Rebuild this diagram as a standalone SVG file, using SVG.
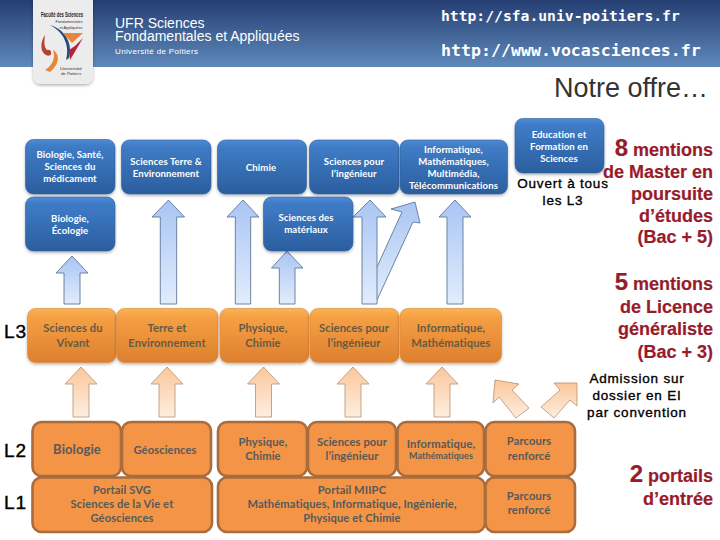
<svg xmlns="http://www.w3.org/2000/svg" width="720" height="540" viewBox="0 0 720 540">
<style>
text{font-family:Lato,"Noto Sans",sans-serif}
.b{fill:url(#gb);stroke:#2f6099;stroke-width:.6;filter:url(#sh)}
.o{fill:url(#go);stroke:#d98a3c;stroke-width:.6;filter:url(#sh)}
.p{fill:#f49446;stroke:#a96c3e;stroke-width:2.6}
.bt{fill:#fff;font-size:9.6px;font-weight:700;text-anchor:middle;letter-spacing:.1px}
.ot{fill:#665a42;font-size:11.2px;font-weight:700;text-anchor:middle;letter-spacing:.1px}
.pt{fill:#565a5a;font-size:11.2px;font-weight:700;text-anchor:middle;letter-spacing:.1px}
.ab{fill:url(#gab);stroke:#5f7896;stroke-width:.9}
.ao{fill:url(#gao);stroke:#b98f6e;stroke-width:.8}
.r,.k,.l,.h,.n{font-family:"Liberation Sans",Arial,sans-serif}
.r{font-weight:700;fill:#981b2b;text-anchor:end;font-size:18px;stroke:#981b2b;stroke-width:.2}
.big{font-size:24px}
.k{fill:#000;font-size:13.5px;text-anchor:middle;stroke:#000;stroke-width:.35;letter-spacing:.8px}
.l{fill:#000;font-size:19px;stroke:#000;stroke-width:.4;letter-spacing:1px}
.u{font-family:"DejaVu Sans Mono",monospace;font-weight:700;fill:#fff}
.h{fill:#fff}
.n{font-size:27px;fill:#333;text-anchor:end}
.lt{font-family:"Liberation Sans",Arial,sans-serif;fill:#333;font-size:4px;text-anchor:middle}
</style>
<defs>
<linearGradient id="gh" x1="0" y1="0" x2="0" y2="1"><stop offset="0" stop-color="#243e72"/><stop offset="1" stop-color="#6089bb"/></linearGradient>
<linearGradient id="gb" x1="0" y1="0" x2="0" y2="1"><stop offset="0" stop-color="#4f8ad6"/><stop offset=".12" stop-color="#3f7cc6"/><stop offset="1" stop-color="#2b5e9f"/></linearGradient>
<linearGradient id="go" x1="0" y1="0" x2="0" y2="1"><stop offset="0" stop-color="#fbb455"/><stop offset=".15" stop-color="#f6a044"/><stop offset="1" stop-color="#dd7f2e"/></linearGradient>
<linearGradient id="gab" x1="0" y1="0" x2="0" y2="1"><stop offset="0" stop-color="#a9c5f4"/><stop offset="1" stop-color="#e2ecfb"/></linearGradient>
<linearGradient id="gao" x1="0" y1="0" x2="0" y2="1"><stop offset="0" stop-color="#fbc79c"/><stop offset="1" stop-color="#fdeee0"/></linearGradient>
<filter id="sh" x="-10%" y="-10%" width="120%" height="125%"><feDropShadow dx="0" dy="1.5" stdDeviation="1.5" flood-color="#000" flood-opacity=".3"/></filter>
</defs>
<rect x="0" y="0" width="720" height="67" fill="url(#gh)"/>
<g id="logo">
<rect x="33" y="-12" width="60" height="96" rx="8" fill="#ececec" filter="url(#sh)"/>
<path d="M50 25C64 32 70 46 66 60L69 58C73 44 66 30 50 25Z" fill="#2b4a7c"/>
<path d="M63 33L83 33L72 43Z" fill="#e5863c"/>
<path d="M83 38L70 60L69 50L75 46Z" fill="#b1243a"/>
<path d="M45 35C40 42 40 52 46 55C50 57 53 54 50 50L47 50C44 47 44 42 45 35Z" fill="#b8402f"/>
<path d="M53 50C60 54 60 64 50 72L45 70C52 66 56 58 53 50Z" fill="#e5863c"/>
<text x="62" y="16.5" style="font-size:8px;font-weight:700;fill:#222;text-anchor:middle;font-family:'Liberation Sans',sans-serif" textLength="42" lengthAdjust="spacingAndGlyphs">Faculté des Sciences</text>
<text class="lt" x="69" y="22.5" textLength="27" lengthAdjust="spacingAndGlyphs">Fondamentales</text>
<text class="lt" x="71" y="29" textLength="23" lengthAdjust="spacingAndGlyphs">et Appliquées</text>
<text class="lt" x="71" y="70" textLength="22" lengthAdjust="spacingAndGlyphs">Université</text>
<text class="lt" x="71" y="75" textLength="20" lengthAdjust="spacingAndGlyphs">de Poitiers</text>
</g>
<g id="header">
<text class="h" x="115" y="28" font-size="14">UFR Sciences</text>
<text class="h" x="115" y="41" font-size="14">Fondamentales et Appliquées</text>
<text class="h" x="115" y="54" font-size="8" letter-spacing=".35">Université de Poitiers</text>
<text class="u" x="441" y="21" font-size="14.7">http://sfa.univ-poitiers.fr</text>
<text class="u" x="441" y="56" font-size="16.6">http://www.vocasciences.fr</text>
</g>
<text class="n" x="708" y="97">Notre offre…</text>
<g id="connectors">
<path class="ab" d="M64 304V273H56L72 256L88 273H80V304Z"/>
<path class="ab" d="M160.3 304V217H152L168.5 200L184.5 217H176.7V304Z"/>
<path class="ab" d="M235.3 304V217H227L243 200L259 217H250.7V304Z"/>
<path class="ab" d="M279.3 304V268H271.5L287 251L303 268H295V304Z"/>
<path class="ab" d="M377 300L413 222L420 223L415 202L391 209L402 212L377 267L362 300Z"/>
<path class="ab" d="M362 304V217H353L370 200L386 217H377V304Z"/>
<path class="ab" d="M447 304V217H439L455 200L471 217H463V304Z"/>
<path class="ao" d="M73 417V384H65L81 367L97 384H89V417Z"/>
<path class="ao" d="M159 417V384H151L167 367L183 384H175V417Z"/>
<path class="ao" d="M255.5 417V384H247.5L263.5 367L279.5 384H271.5V417Z"/>
<path class="ao" d="M345 417V384H337L353 367L369 384H361V417Z"/>
<path class="ao" d="M434 417V384H426L442 367L458 384H450V417Z"/>
<path class="ao" d="M495 380L519 384L512 390L529 408L516 418L499 397L493 403Z"/>
<path class="ao" d="M577 383L554 383L560 390L541 407L554 418L570 400L577 406Z"/>
</g>
<g id="n-biosante"><rect class="b" x="25.5" y="139.5" width="89.5" height="54.5" rx="8"/><text class="bt" x="70" y="158">Biologie, Santé,</text><text class="bt" x="70" y="170">Sciences du</text><text class="bt" x="70" y="182">médicament</text></g>
<g id="n-terre"><rect class="b" x="121.5" y="140" width="89.5" height="54" rx="8"/><text class="bt" x="166" y="165">Sciences Terre &amp;</text><text class="bt" x="166" y="177">Environnement</text></g>
<g id="n-chimie"><rect class="b" x="217.5" y="140" width="89" height="54" rx="8"/><text class="bt" x="261" y="171">Chimie</text></g>
<g id="n-inge"><rect class="b" x="309.5" y="140" width="89.5" height="54" rx="8"/><text class="bt" x="354" y="165">Sciences pour</text><text class="bt" x="354" y="177">l’ingénieur</text></g>
<g id="n-info"><rect class="b" x="400" y="140" width="107.5" height="54" rx="8"/><text class="bt" x="453.5" y="153">Informatique,</text><text class="bt" x="453.5" y="165">Mathématiques,</text><text class="bt" x="453.5" y="177">Multimédia,</text><text class="bt" x="453.5" y="189">Télécommunications</text></g>
<g id="n-educ"><rect class="b" x="515" y="118.5" width="89" height="54.5" rx="8"/><text class="bt" x="559" y="138">Education et</text><text class="bt" x="559" y="150">Formation en</text><text class="bt" x="559" y="162">Sciences</text></g>
<g id="n-bioeco"><rect class="b" x="25.5" y="197" width="89.5" height="54" rx="8"/><text class="bt" x="70" y="222">Biologie,</text><text class="bt" x="70" y="234">Écologie</text></g>
<g id="n-mat"><rect class="b" x="263.5" y="197" width="89.5" height="54" rx="8"/><text class="bt" x="306" y="221">Sciences des</text><text class="bt" x="306" y="233">matériaux</text></g>
<g id="l3-vivant"><rect class="o" x="27.5" y="308.5" width="88.5" height="54" rx="8"/><text class="ot" x="73" y="332">Sciences du</text><text class="ot" x="73" y="346.5">Vivant</text></g>
<g id="l3-terre"><rect class="o" x="116.5" y="308.5" width="101.5" height="54" rx="8"/><text class="ot" x="167" y="332">Terre et</text><text class="ot" x="167" y="346.5">Environnement</text></g>
<g id="l3-phys"><rect class="o" x="220" y="308.5" width="89" height="54" rx="8"/><text class="ot" x="263" y="332">Physique,</text><text class="ot" x="263" y="346.5">Chimie</text></g>
<g id="l3-inge"><rect class="o" x="310" y="308.5" width="89" height="54" rx="8"/><text class="ot" x="354" y="332">Sciences pour</text><text class="ot" x="354" y="346.5">l’ingénieur</text></g>
<g id="l3-info"><rect class="o" x="400" y="308.5" width="101.5" height="54" rx="8"/><text class="ot" x="451" y="332">Informatique,</text><text class="ot" x="451" y="346.5">Mathématiques</text></g>
<g id="l2-bio"><rect class="p" x="32.5" y="422" width="88.5" height="54" rx="9"/><text class="pt" x="77" y="453.5" style="font-size:13px">Biologie</text></g>
<g id="l2-geo"><rect class="p" x="122" y="422" width="89" height="54" rx="9"/><text class="pt" x="165" y="453.5">Géosciences</text></g>
<g id="l2-phys"><rect class="p" x="218" y="422" width="89" height="54" rx="9"/><text class="pt" x="263" y="445.5">Physique,</text><text class="pt" x="263" y="460">Chimie</text></g>
<g id="l2-inge"><rect class="p" x="308" y="422" width="88" height="54" rx="9"/><text class="pt" x="352" y="445.5">Sciences pour</text><text class="pt" x="352" y="460">l’ingénieur</text></g>
<g id="l2-info"><rect class="p" x="397.5" y="422" width="86.5" height="54" rx="9"/><text class="pt" x="441" y="448">Informatique,</text><text class="pt" x="441" y="459" style="font-size:9px">Mathématiques</text></g>
<g id="l2-parc"><rect class="p" x="485.5" y="422" width="89.5" height="54" rx="9"/><text class="pt" x="529" y="445">Parcours</text><text class="pt" x="529" y="460">renforcé</text></g>
<g id="l1-svg"><rect class="p" x="32.5" y="477.5" width="179.5" height="54.5" rx="9"/><text class="pt" x="122" y="493.5">Portail SVG</text><text class="pt" x="122" y="508">Sciences de la Vie et</text><text class="pt" x="122" y="522">Géosciences</text></g>
<g id="l1-miipc"><rect class="p" x="218" y="477.5" width="267" height="54.5" rx="9"/><text class="pt" x="352" y="493.5">Portail MIIPC</text><text class="pt" x="352" y="508">Mathématiques, Informatique, Ingénierie,</text><text class="pt" x="352" y="522">Physique et Chimie</text></g>
<g id="l1-parc"><rect class="p" x="485.5" y="477.5" width="89.5" height="54.5" rx="9"/><text class="pt" x="529" y="500">Parcours</text><text class="pt" x="529" y="514">renforcé</text></g>
<g id="labels">
<text class="l" x="4" y="338">L3</text><text class="l" x="4" y="457">L2</text><text class="l" x="4" y="509">L1</text>
<text class="k" x="563" y="188">Ouvert à tous</text><text class="k" x="563" y="205">les L3</text>
<text class="k" x="637" y="383">Admission sur</text><text class="k" x="637" y="400">dossier en EI</text><text class="k" x="637" y="417">par convention</text>
<text class="r" x="713" y="156"><tspan class="big">8</tspan> mentions</text>
<text class="r" x="713" y="178">de Master en</text>
<text class="r" x="713" y="200">poursuite</text>
<text class="r" x="713" y="222">d’études</text>
<text class="r" x="713" y="243">(Bac + 5)</text>
<text class="r" x="713" y="290"><tspan class="big">5</tspan> mentions</text>
<text class="r" x="713" y="313">de Licence</text>
<text class="r" x="713" y="335">généraliste</text>
<text class="r" x="713" y="358">(Bac + 3)</text>
<text class="r" x="713" y="482"><tspan class="big">2</tspan> portails</text>
<text class="r" x="713" y="505">d’entrée</text>
</g>
</svg>
